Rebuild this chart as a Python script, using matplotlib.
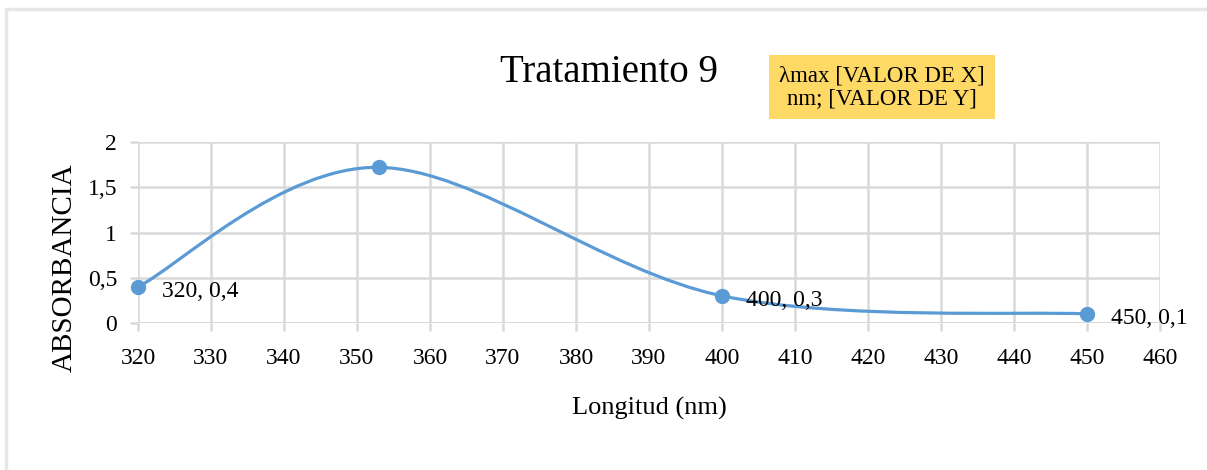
import matplotlib
matplotlib.use("Agg")
import matplotlib.pyplot as plt
from matplotlib.path import Path
from matplotlib.patches import PathPatch, Rectangle

# ---- data ----
x_vals = [320, 353, 400, 450]
y_vals = [0.4, 1.72, 0.3, 0.1]
point_labels = ["320, 0,4", None, "400, 0,3", "450, 0,1"]
x_ticks = [320, 330, 340, 350, 360, 370, 380, 390, 400, 410, 420, 430, 440, 450, 460]
y_ticks = [0, 0.5, 1, 1.5, 2]
y_tick_labels = ["0", "0,5", "1", "1,5", "2"]
title = "Tratamiento 9"
x_title = "Longitud (nm)"
y_title = "ABSORBANCIA"
peak_label = "λmax [VALOR DE X]\nnm; [VALOR DE Y]"

plt.rcParams['font.family'] = ['Liberation Serif', 'DejaVu Serif']

W, H = 1207, 470
fig = plt.figure(figsize=(W / 100, H / 100), dpi=100)
fig.patch.set_facecolor('white')

# outer chart frame (top/left visible)
fig.patches.append(Rectangle((6 / W, -0.1), 1.2, 1 - 9 / H + 0.1, transform=fig.transFigure,
                             fill=False, ec='#e6e6e6', lw=2.5, zorder=0))

ax = fig.add_axes([138 / W, 1 - 323 / H, (1160 - 138) / W, (323 - 142) / H])
ax.set_xlim(x_ticks[0], x_ticks[-1])
ax.set_ylim(y_ticks[0], y_ticks[-1])
ax.set_xticks(x_ticks)
ax.set_yticks(y_ticks)
ax.set_yticklabels(y_tick_labels)
for s in ax.spines.values():
    s.set_visible(False)
grid_c = '#d9d9d9'
ax.grid(True, color=grid_c, lw=1.8)
ax.set_axisbelow(True)
ax.tick_params(axis='both', direction='out', length=6, width=1.8, color=grid_c,
               labelsize=17, labelcolor='black')
ax.tick_params(axis='x', pad=12)
ax.tick_params(axis='y', pad=9)
ax.axhline(0, color=grid_c, lw=1.8, zorder=0.5)

# smooth curve (Excel-style Catmull-Rom Bezier)
pts = list(zip(x_vals, y_vals))
verts = [pts[0]]
codes = [Path.MOVETO]
n = len(pts)
for i in range(n - 1):
    p0 = pts[i - 1] if i > 0 else pts[i]
    p1 = pts[i]
    p2 = pts[i + 1]
    p3 = pts[i + 2] if i + 2 < n else pts[i + 1]
    c1 = (p1[0] + (p2[0] - p0[0]) / 6, p1[1] + (p2[1] - p0[1]) / 6)
    c2 = (p2[0] - (p3[0] - p1[0]) / 6, p2[1] - (p3[1] - p1[1]) / 6)
    verts += [c1, c2, p2]
    codes += [Path.CURVE4] * 3
blue = '#5b9bd5'
ax.add_patch(PathPatch(Path(verts, codes), fill=False, ec=blue, lw=2.3, zorder=3))
ax.plot(x_vals, y_vals, 'o', color=blue, ms=10, zorder=4, clip_on=False)

for xv, yv, lab in zip(x_vals, y_vals, point_labels):
    if lab:
        ax.annotate(lab, (xv, yv), xytext=(24, -5), textcoords='offset pixels',
                    ha='left', va='center', fontsize=17, color='black')

fig.text(609 / W, 1 - 73 / H, title, ha='center', va='center', fontsize=28)
fig.text(882 / W, 1 - 87 / H, peak_label, ha='center', va='center', fontsize=16.5,
         linespacing=1.1, bbox=dict(boxstyle='square,pad=0.45', fc='#ffd966', ec='none'))
fig.text(649 / W, 1 - 408 / H, x_title, ha='center', va='center', fontsize=19)
fig.text(65 / W, 1 - 268 / H, y_title, ha='center', va='center', fontsize=21, rotation=90)

fig.savefig('out.png', dpi=100, facecolor='white')
